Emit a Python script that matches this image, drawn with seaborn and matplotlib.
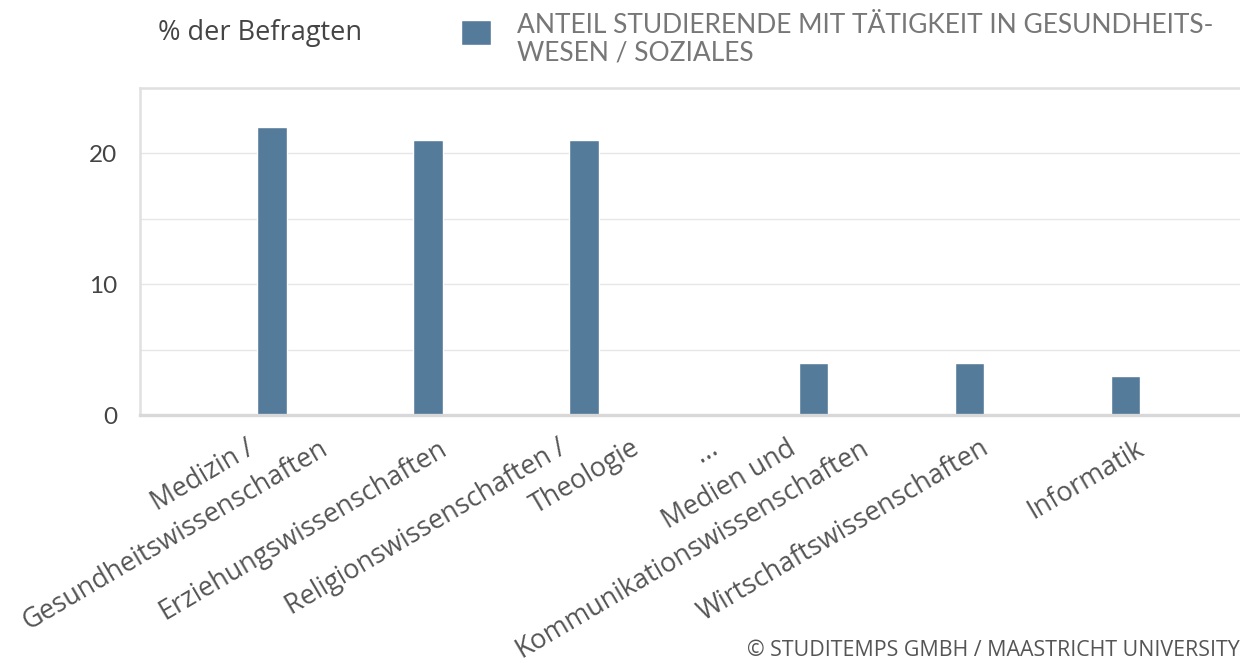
import numpy as np
import pandas as pd
import matplotlib
matplotlib.use("Agg")
import matplotlib.pyplot as plt
from matplotlib.patches import Rectangle
from matplotlib.legend_handler import HandlerPatch
from matplotlib.ticker import MultipleLocator
import seaborn as sns

# Daten
faecher = [
    "Medizin /\nGesundheitswissenschaften",
    "Erziehungswissenschaften",
    "Religionswissenschaften /\nTheologie",
    "...",
    "Medien und\nKommunikationswissenschaften",
    "Wirtschaftswissenschaften",
    "Informatik",
]
anteil = [22, 21, 21, None, 4, 4, 3]
serie = "ANTEIL STUDIERENDE MIT TÄTIGKEIT IN GESUNDHEITS-\nWESEN / SOZIALES"
y_titel = "% der Befragten"
quelle = "© STUDITEMPS GMBH / MAASTRICHT UNIVERSITY"

# Platz je Kategorie, die Auslassung "..." ist schmaler
slot = [1, 1, 1, 0.47, 1, 1, 1]
pos = [0.0]
for i in range(1, len(slot)):
    pos.append(pos[-1] + (slot[i - 1] + slot[i]) / 2)

df = pd.DataFrame({"fach": faecher, "pos": pos, "anteil": anteil}).dropna()

sns.set_style("white")
plt.rcParams["font.family"] = ["Open Sans", "DejaVu Sans"]

balken = "#557b9b"
fig = plt.figure(figsize=(12.4, 6.63), dpi=100)
ax = fig.add_axes([140 / 1240, 248 / 663, 1118 / 1240, 327 / 663])

sns.barplot(data=df, x="pos", y="anteil", native_scale=True, width=0.19,
            color=balken, saturation=1, errorbar=None, ax=ax)

ax.set_xlim(-0.846, pos[-1] + 0.85)
ax.set_ylim(0, 25)
ax.yaxis.set_major_locator(MultipleLocator(10))
ax.yaxis.set_minor_locator(MultipleLocator(5))
ax.grid(axis="y", which="both", color="#e6e6e6", lw=1)
ax.set_axisbelow(True)

# Kategorienbeschriftung: gedreht, Zeilen jeweils seitlich versetzt
ax.set_xticks(pos)
ax.tick_params(axis="x", length=0, labelbottom=False)
for p, name in zip(pos, faecher):
    zeilen = name.split("\n")
    n = len(zeilen)
    for k, z in enumerate(zeilen):
        dx = (10 + (k - (n - 1) / 2) * 73) * 0.72
        ax.annotate(z, xy=(p, 0), xycoords="data", xytext=(dx, -14),
                    textcoords="offset points", rotation=30.5, ha="right",
                    va="top", rotation_mode="anchor", fontsize=19.4,
                    color="#555555", annotation_clip=False)

ax.tick_params(axis="y", which="both", length=0, pad=16.5)
for t in ax.get_yticklabels():
    t.set_fontfamily("Lato")
    t.set_fontsize(17.5)
    t.set_color("#444444")

ax.set_xlabel("")
ax.set_ylabel(y_titel, rotation=0, ha="left", va="center", fontsize=19.5,
              color="#444444")
ax.yaxis.set_label_coords(18 / 1118, (415 - 33) / 327)

for s in ["left", "top"]:
    ax.spines[s].set_color("#e0e0e0")
    ax.spines[s].set_linewidth(1.8)
ax.spines["bottom"].set_color("#d8d8d8")
ax.spines["bottom"].set_linewidth(2.4)
ax.spines["right"].set_visible(False)


def oben_patch(legend, orig_handle, xdescent, ydescent, width, height, fontsize):
    return Rectangle((-xdescent, -ydescent + 0.3 * fontsize), width, height)


leg = fig.legend([ax.patches[0]], [serie], loc="upper left",
                 bbox_to_anchor=(461 / 1240, 1 - 13 / 663),
                 frameon=False, borderpad=0, borderaxespad=0,
                 handlelength=1.12, handleheight=1.12, handletextpad=1.0,
                 handler_map={Rectangle: HandlerPatch(patch_func=oben_patch)},
                 prop={"family": "Lato", "weight": "normal", "size": 19})
for t in leg.get_texts():
    t.set_color("#777777")
    t.set_linespacing(1.15)

fig.text(747 / 1240, 1 - 651 / 663, quelle, ha="left", va="center",
         fontsize=15.4, color="#555555")

fig.savefig("out.png", dpi=100)
